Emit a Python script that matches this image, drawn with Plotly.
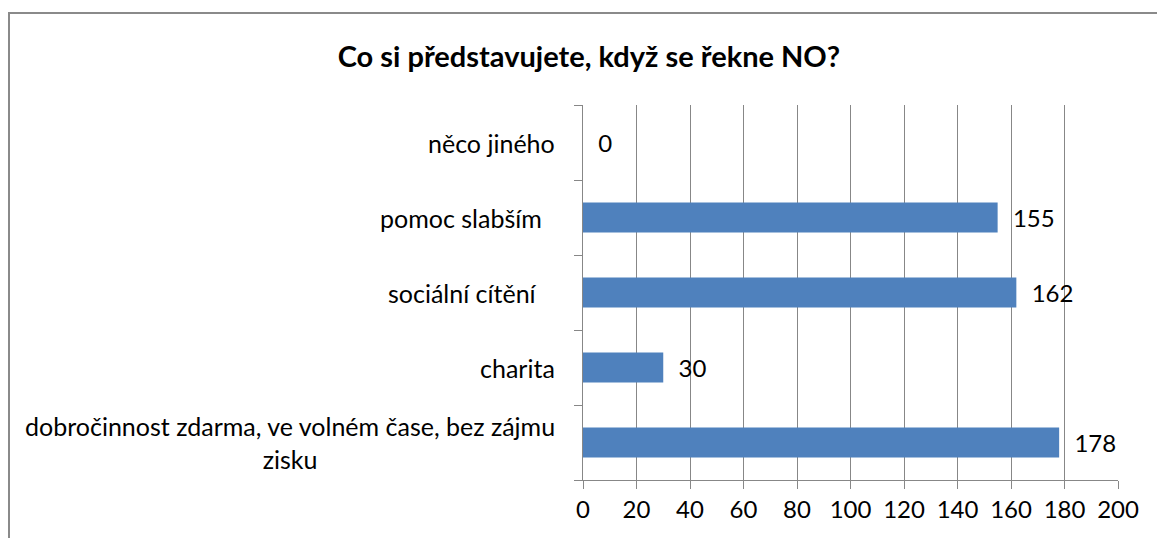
import plotly.graph_objects as go

# data (bottom to top, as drawn)
categories = [
    "dobročinnost zdarma, ve volném čase, bez zájmu<br>zisku",
    "charita",
    "sociální cítění   ",
    "pomoc slabším  ",
    "něco jiného",
]
values = [178, 30, 162, 155, 0]
x_ticks = [0, 20, 40, 60, 80, 100, 120, 140, 160, 180, 200]

title_text = "Co si představujete, když se řekne NO?"
grid = "#878787"
font_family = "Lato, 'Open Sans', sans-serif"
label_size = 24

fig = go.Figure(
    go.Bar(
        y=categories,
        x=values,
        orientation="h",
        marker=dict(color="#4F81BD", line=dict(width=0)),
        texttemplate="\u00a0\u00a0%{x}",
        textposition="outside",
        textfont=dict(size=label_size, color="#000000", family=font_family),
        cliponaxis=False,
    )
)

# category labels as annotations so wrapped text stays centred
for cat in categories:
    fig.add_annotation(
        x=0,
        xref="paper",
        y=cat,
        yref="y",
        text=cat.replace(" ", "\u00a0") if cat.endswith(" ") else cat,
        showarrow=False,
        xanchor="right",
        xshift=-26,
        align="center",
        font=dict(size=25, color="#000000", family=font_family),
    )

fig.update_layout(
    width=1157,
    height=538,
    margin=dict(l=583, r=39, t=105, b=58),
    paper_bgcolor="white",
    plot_bgcolor="white",
    bargap=0.6,
    showlegend=False,
    title=dict(
        text="<b>" + title_text + "</b>",
        x=0.509,
        xanchor="center",
        y=1 - 57 / 538,
        yanchor="middle",
        font=dict(size=29, color="#000000", family=font_family),
    ),
    font=dict(family=font_family),
)

fig.update_xaxes(
    range=[0, 200],
    tickvals=x_ticks,
    showgrid=True,
    gridcolor=grid,
    gridwidth=1,
    showline=True,
    linecolor=grid,
    linewidth=1,
    ticks="outside",
    ticklen=8,
    tickcolor=grid,
    tickfont=dict(size=label_size, color="#000000", family=font_family),
    zeroline=False,
    fixedrange=True,
)

fig.update_yaxes(
    type="category",
    categoryorder="array",
    categoryarray=categories,
    showticklabels=False,
    showgrid=False,
    showline=True,
    linecolor=grid,
    linewidth=1,
    ticks="outside",
    tickson="boundaries",
    ticklen=8,
    tickcolor=grid,
    fixedrange=True,
)

# outer chart frame (left and top edges visible)
fig.add_shape(
    type="rect",
    xref="paper",
    yref="paper",
    x0=(9 - 583) / 535,
    x1=1.3,
    y0=-0.4,
    y1=(480 - 13) / 375,
    line=dict(color="#8a8a8a", width=2),
    fillcolor="rgba(0,0,0,0)",
    layer="below",
)

# drop the default page margin so the figure sits at the window origin
fig.write_html(
    "out.html",
    config={"displayModeBar": False},
    post_script="document.body.style.margin='0';document.body.style.overflow='hidden';",
)
